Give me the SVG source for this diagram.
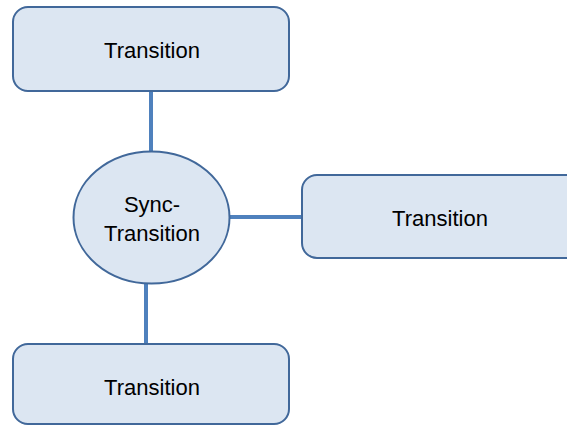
<svg xmlns="http://www.w3.org/2000/svg" width="567" height="425" viewBox="0 0 567 425">
  <style>
    .shape { fill: #dce6f2; stroke: #41689a; stroke-width: 2; }
    .link { stroke: #4f81bd; stroke-width: 4; fill: none; }
    .label { font-family: "Liberation Sans", Arial, sans-serif; font-size: 22px; fill: #000; text-anchor: middle; }
  </style>
  <rect width="567" height="425" fill="#ffffff"/>
  <g id="connectors">
    <line class="link" x1="151" y1="92" x2="151" y2="153"/>
    <line class="link" x1="230" y1="217" x2="302" y2="217"/>
    <line class="link" x1="146" y1="282" x2="146" y2="344"/>
  </g>
  <g id="transition-top">
    <rect class="shape" x="13" y="7" width="276" height="84" rx="15"/>
    <text class="label" x="152" y="58">Transition</text>
  </g>
  <g id="sync-transition">
    <ellipse class="shape" cx="151.5" cy="217.5" rx="78" ry="66"/>
    <text class="label" x="152" y="212">Sync-</text>
    <text class="label" x="152" y="241">Transition</text>
  </g>
  <g id="transition-right">
    <rect class="shape" x="302" y="175" width="280" height="83" rx="15"/>
    <text class="label" x="440" y="226">Transition</text>
  </g>
  <g id="transition-bottom">
    <rect class="shape" x="13" y="344" width="276" height="80" rx="15"/>
    <text class="label" x="152" y="395">Transition</text>
  </g>
</svg>
